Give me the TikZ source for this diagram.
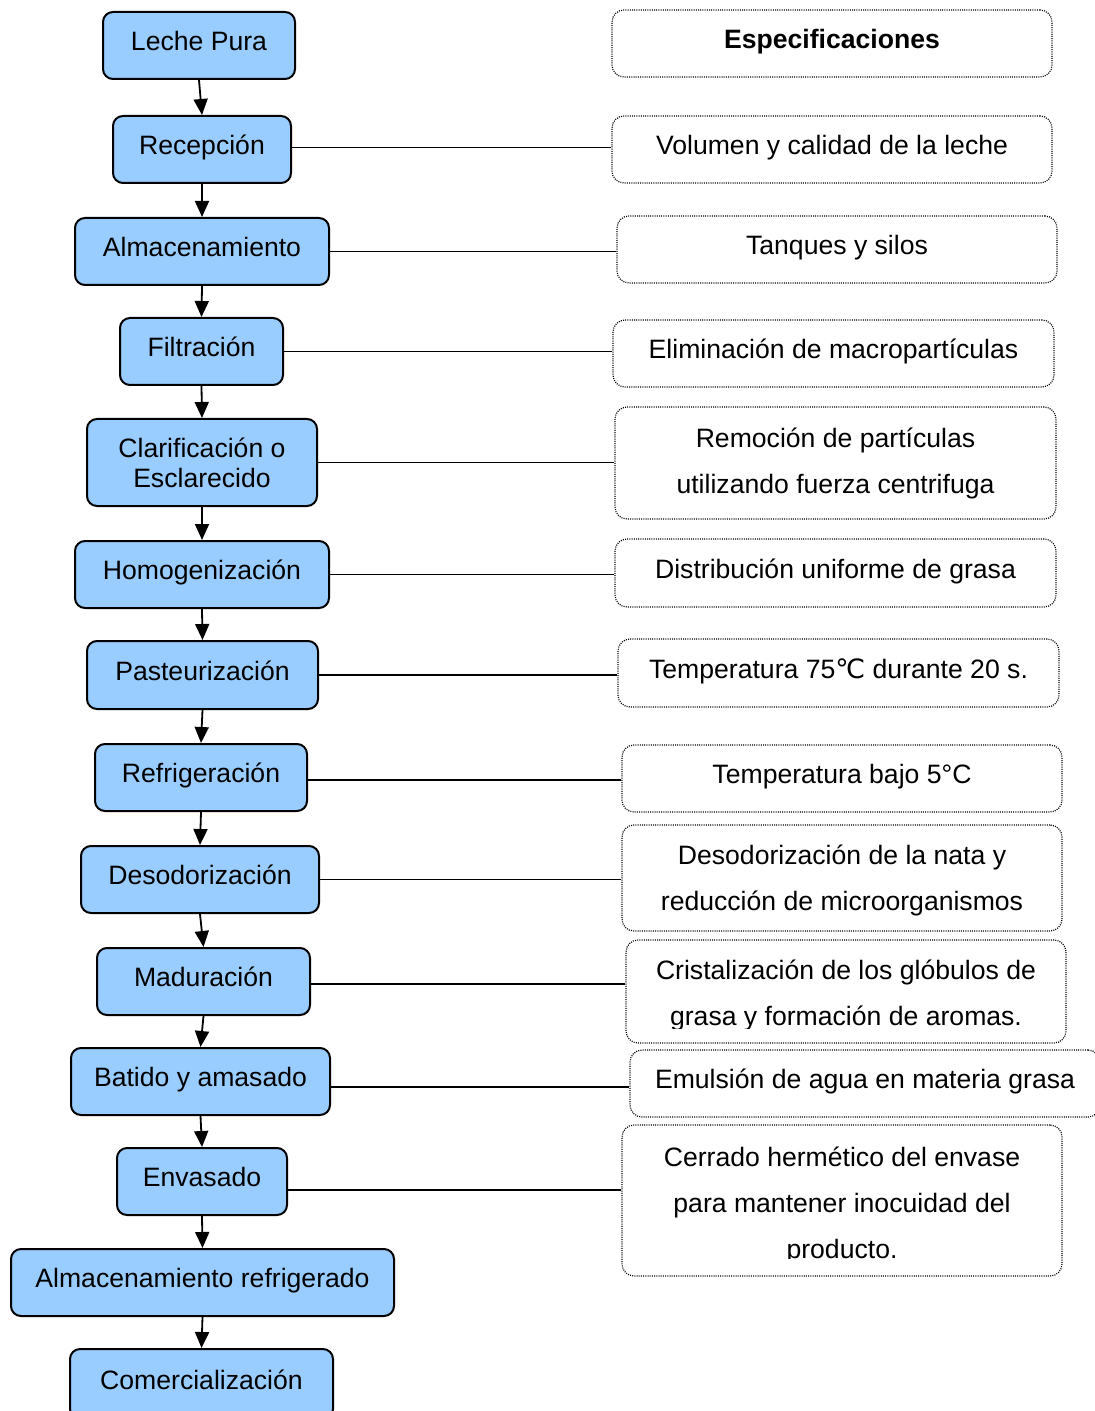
\documentclass[tikz,border=0pt]{standalone}
\usepackage{fontspec}
\setmainfont{Liberation Sans}
\newfontfamily\symfont{DejaVu Sans}
\usetikzlibrary{arrows.meta}
\definecolor{procblue}{RGB}{153,204,255}
\begin{document}
\begin{tikzpicture}[x=0.5pt,y=-0.5pt,
  font=\fontsize{13.3}{15}\selectfont,
  proc/.style={draw=black, line width=1pt, fill=procblue, rounded corners=5pt,
    align=center, inner sep=2pt},
  oneline/.style={text height=10pt, text depth=5pt},
  spec/.style={draw=black, line width=0.6pt, dash pattern=on 0.5pt off 0.6pt,
    rounded corners=6pt, align=center, inner sep=2pt,
    font=\fontsize{13.3}{23}\selectfont},
  spectext/.style={align=center, inner sep=0pt, font=\fontsize{13.3}{23}\selectfont},
  flow/.style={line width=0.9pt, -{Triangle[length=8pt,width=7pt]}},
  link/.style={line width=0.9pt, black}
]
\useasboundingbox (0,0) rectangle (1095,1411);
\clip (0,0) rectangle (1095,1411);

% process chain
\node[proc, oneline, minimum width=96pt,  minimum height=33.5pt] (leche)  at (199,45.5)   {Leche Pura};
\node[proc, oneline, minimum width=89pt,  minimum height=33.5pt] (recep)  at (202,149.5)  {Recepción};
\node[proc, oneline, minimum width=127pt, minimum height=33.5pt] (almac)  at (202,251.5)  {Almacenamiento};
\node[proc, oneline, minimum width=81.5pt,minimum height=33.5pt] (filtr)  at (201.5,351.5){Filtración};
\node[proc, minimum width=115pt, minimum height=43.5pt] (clari)  at (202,462.5)  {Clarificación o\\Esclarecido};
\node[proc, oneline, minimum width=127pt, minimum height=33.5pt] (homog)  at (202,574.5)  {Homogenización};
\node[proc, oneline, minimum width=115.5pt,minimum height=34pt]  (paste)  at (202.5,675)  {Pasteurización};
\node[proc, oneline, minimum width=106pt, minimum height=33.5pt] (refri)  at (201,777.5)  {Refrigeración};
\node[proc, oneline, minimum width=119pt, minimum height=33.5pt] (desod)  at (200,879.5)  {Desodorización};
\node[proc, oneline, minimum width=106.5pt,minimum height=33.5pt](madur)  at (203.5,981.5){Maduración};
\node[proc, oneline, minimum width=129.5pt,minimum height=33.5pt](batid)  at (200.5,1081.5){Batido y amasado};
\node[proc, oneline, minimum width=85pt,  minimum height=33.5pt] (envas)  at (202,1181.5) {Envasado};
\node[proc, oneline, minimum width=191.5pt,minimum height=33.5pt](almref) at (202.5,1282.5){Almacenamiento refrigerado};
\node[proc, oneline, minimum width=131.5pt,minimum height=35pt]  (comer)  at (201.5,1384)  {Comercialización};

\foreach \a/\b in {leche/recep, recep/almac, almac/filtr, filtr/clari, clari/homog,
                   homog/paste, paste/refri, refri/desod, desod/madur, madur/batid,
                   batid/envas, envas/almref, almref/comer}
  \draw[flow] (\a.south) -- (\b.north);

% specifications column
\node[spec, oneline, minimum width=220pt, minimum height=33.5pt] (espec) at (832,43.5) {\textbf{Especificaciones}};
\node[spec, oneline, minimum width=220pt, minimum height=33.5pt] (s1) at (832,149.5) {Volumen y calidad de la leche};
\node[spec, oneline, minimum width=220pt, minimum height=33.5pt] (s2) at (837,249.5) {Tanques y silos};
\node[spec, oneline, minimum width=220.5pt,minimum height=33.5pt](s3) at (833.5,353.5) {Eliminación de macropartículas};
\node[spec, minimum width=220.5pt, minimum height=56pt] (s4) at (835.5,463) {Remoción de partículas\\utilizando fuerza centrifuga};
\node[spec, oneline, minimum width=220.5pt,minimum height=34pt] (s5) at (835.5,573) {Distribución uniforme de grasa};
\node[spec, oneline, minimum width=220.5pt,minimum height=34pt] (s6) at (838.5,673) {Temperatura 75{\symfont ℃} durante 20 s.};
\node[spec, oneline, minimum width=220pt, minimum height=33.5pt] (s7) at (842,778.5) {Temperatura bajo 5°C};
\node[spec, minimum width=220pt, minimum height=53pt] (s8) at (842,878) {};
\node[spectext] (s8txt) at (842,880) {Desodorización de la nata y\\reducción de microorganismos};
\node[spec, minimum width=220pt, minimum height=51.5pt] (s9) at (846,991.5) {};
\begin{scope}
  \clip (600,930) rectangle (1095,1028);
  \node[spectext] (s9txt) at (846,995) {Cristalización de los glóbulos de\\grasa y formación de aromas.};
\end{scope}
\node[spec, oneline, minimum width=235pt, minimum height=33.5pt] (s10) at (865,1083.5) {Emulsión de agua en materia grasa};
\node[spec, minimum width=220pt, minimum height=75.5pt] (s11) at (842,1200.5) {};
\begin{scope}
  \clip (600,1120) rectangle (1095,1258);
  \node[spectext] (s11txt) at (842,1205) {Cerrado hermético del envase\\para mantener inocuidad del\\producto.};
\end{scope}

% links between steps and their specifications
\draw[link] ([yshift=1pt]recep.east) -- ([yshift=1pt]recep.east -| s1.west);
\draw[link] (almac.east) -- (almac.east -| s2.west);
\draw[link] (filtr.east) -- (filtr.east -| s3.west);
\draw[link] (clari.east) -- (clari.east -| s4.west);
\draw[link] (homog.east) -- (homog.east -| s5.west);
\draw[link] (paste.east) -- (paste.east -| s6.west);
\draw[link] ([yshift=-1.25pt]refri.east) -- ([yshift=-1.25pt]refri.east -| s7.west);
\draw[link] (desod.east) -- (desod.east -| s8.west);
\draw[link] ([yshift=-1.25pt]madur.east) -- ([yshift=-1.25pt]madur.east -| s9.west);
\draw[link] ([yshift=-2.75pt]batid.east) -- ([yshift=-2.75pt]batid.east -| s10.west);
\draw[link] ([yshift=-4.25pt]envas.east) -- ([yshift=-4.25pt]envas.east -| s11.west);
\end{tikzpicture}
\end{document}
